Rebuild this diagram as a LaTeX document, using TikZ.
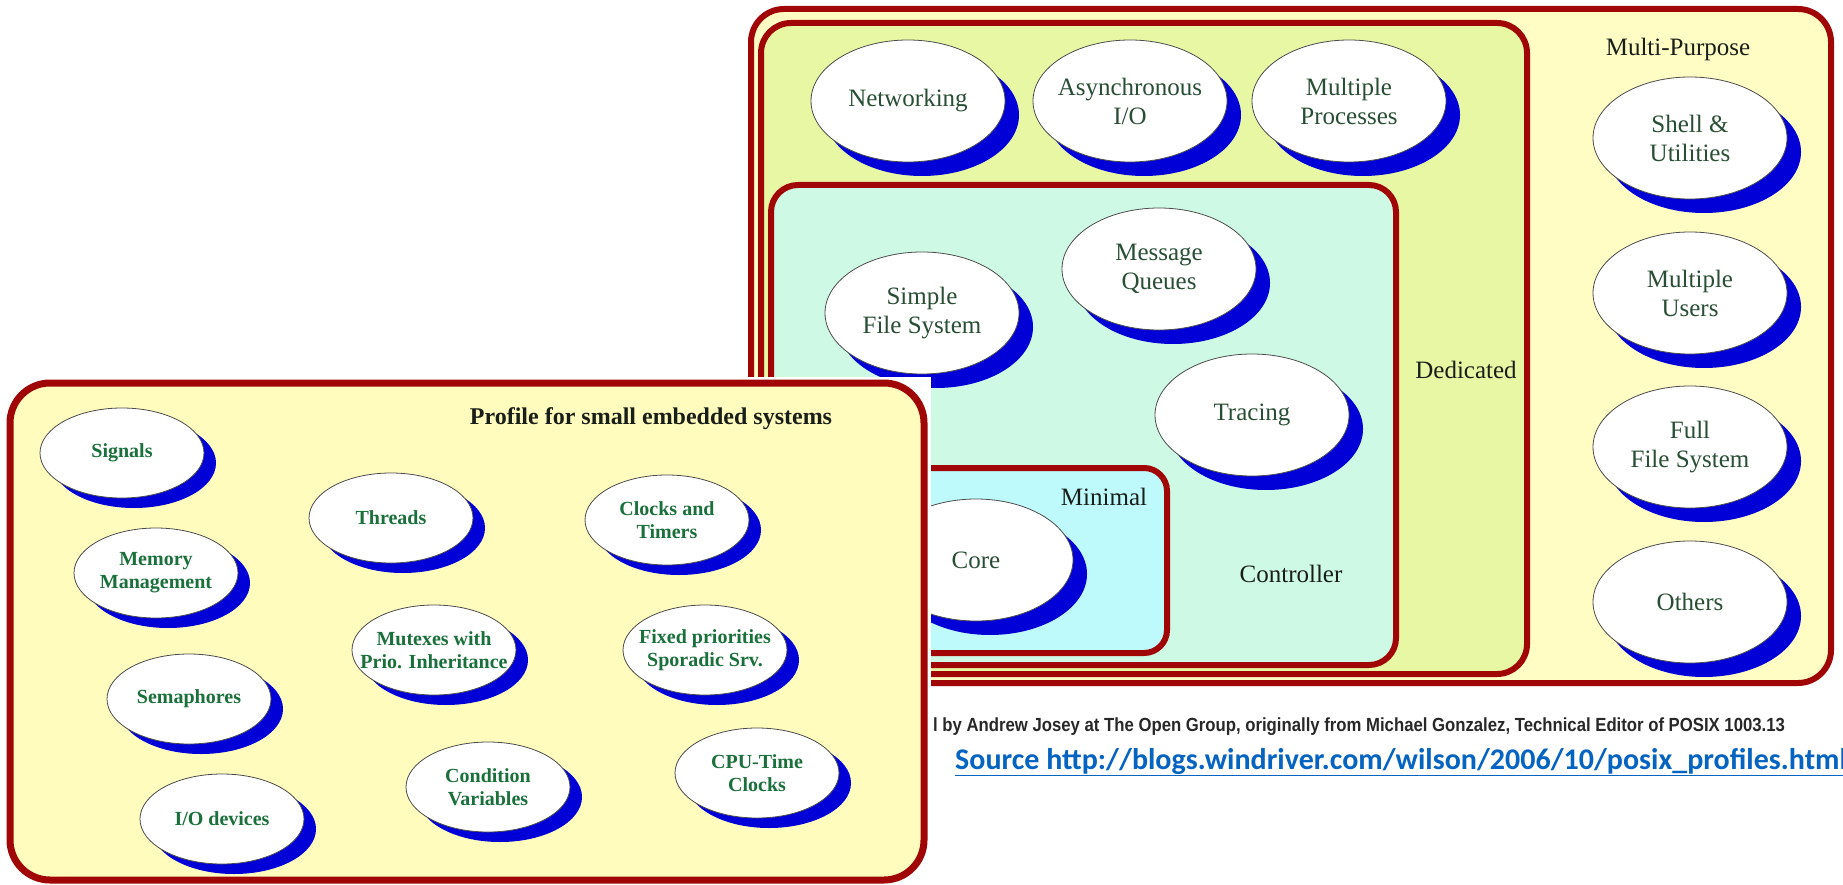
\documentclass[tikz,border=0pt]{standalone}
\usepackage{fontspec}
\setmainfont{Liberation Serif}
\newfontfamily\capfont{Liberation Sans}
\newfontfamily\linkfont{Carlito}
\usetikzlibrary{shapes.geometric,shadows}

\definecolor{frame}{RGB}{160,6,6}
\definecolor{mpfill}{RGB}{255,252,196}
\definecolor{dedfill}{RGB}{231,247,163}
\definecolor{ctlfill}{RGB}{206,250,229}
\definecolor{minfill}{RGB}{190,250,251}
\definecolor{embfill}{RGB}{255,252,190}
\definecolor{bubblue}{RGB}{0,0,215}
\definecolor{rgreen}{RGB}{40,78,52}
\definecolor{lgreen}{RGB}{26,112,58}
\definecolor{inkblack}{RGB}{25,30,25}
\definecolor{capgray}{RGB}{40,40,40}
\definecolor{linkblue}{RGB}{5,99,193}

\begin{document}
\begin{tikzpicture}[x=1pt,y=-1pt,
  box/.style={draw=frame, line width=6pt},
  bubble/.style={ellipse, draw=black!70, line width=0.8pt, fill=white, inner sep=0pt},
  rbub/.style={bubble, minimum width=194pt, minimum height=122pt,
    drop shadow={shadow xshift=14pt, shadow yshift=-14pt, fill=bubblue, opacity=1}},
  lbub/.style={bubble, minimum width=164pt, minimum height=90pt,
    drop shadow={shadow xshift=12pt, shadow yshift=-10pt, fill=bubblue, opacity=1}},
  rtxt/.style={align=center, inner sep=0pt, text=rgreen, font=\fontsize{25}{29}\selectfont},
  ltxt/.style={align=center, inner sep=0pt, text=lgreen, font=\bfseries\fontsize{20}{23}\selectfont},
  tag/.style={inner sep=0pt, text=inkblack, font=\fontsize{25}{29}\selectfont}]

\useasboundingbox (0,0) rectangle (1843,885);
\fill[white] (0,0) rectangle (1843,885);

% nested POSIX profiles
\draw[box, fill=mpfill, rounded corners=33pt] (751,9) rectangle (1831,683);
\draw[box, fill=dedfill, rounded corners=30pt] (761,23) rectangle (1527,674);

\node[rbub] (net) at (908,101) {};
\node[rtxt] (net-t) at (net) {Networking};
\node[rbub] (aio) at (1130,101) {};
\node[rtxt] (aio-t) at (aio) {Asynchronous\\I/O};
\node[rbub] (mproc) at (1349,101) {};
\node[rtxt] (mproc-t) at (mproc) {Multiple\\Processes};

\draw[box, fill=ctlfill, rounded corners=27pt] (771,185) rectangle (1396,665);

\node[rbub] (sfs) at (922,313) {};
\node[rtxt] (sfs-t) at (sfs) {Simple\\File System};
\node[rbub] (mq) at (1159,269) {};
\node[rtxt] (mq-t) at (mq) {Message\\Queues};
\node[rbub] (trc) at (1252,415) {};
\node[rtxt] (trc-t) at (trc) {Tracing};

\draw[box, fill=minfill, rounded corners=23pt] (880,468) rectangle (1167,653);
\node[rbub] (core) at (976,560) {};
\node[rtxt] (core-t) at (core) {Core};

\node[tag] (minimal) at (1104,497) {Minimal};
\node[tag] (controller) at (1291,574) {Controller};
\node[tag] (dedicated) at (1466,370) {Dedicated};
\node[tag] (multi) at (1678,49) {Multi-Purpose};

\node[rbub] (shell) at (1690,138) {};
\node[rtxt] (shell-t) at (shell) {Shell \&\\Utilities};
\node[rbub] (users) at (1690,293) {};
\node[rtxt] (users-t) at (users) {Multiple\\Users};
\node[rbub] (ffs) at (1690,447) {};
\node[rtxt] (ffs-t) at (ffs) {Full\\File System};
\node[rbub] (others) at (1690,602) {};
\node[rtxt] (others-t) at (others) {Others};

% small embedded systems profile, laid over the lower left
\fill[white] (0,377) rectangle (931,885);
\draw[draw=frame, line width=7pt, fill=embfill, rounded corners=40pt] (10,383) rectangle (924,880);
\node[inner sep=0pt, text=inkblack, font=\bfseries\fontsize{24}{28}\selectfont] (embtitle) at (651,419) {Profile for small embedded systems};

\node[lbub] (sig) at (122,453) {};
\node[ltxt] (sig-t) at (sig) {Signals};
\node[lbub] (mem) at (156,573) {};
\node[ltxt] (mem-t) at (mem) {Memory\\Management};
\node[lbub] (sem) at (189,699) {};
\node[ltxt] (sem-t) at (sem) {Semaphores};
\node[lbub] (iod) at (222,819) {};
\node[ltxt] (iod-t) at (iod) {I/O devices};
\node[lbub] (thr) at (391,518) {};
\node[ltxt] (thr-t) at (thr) {Threads};
\node[lbub] (mtx) at (434,650) {};
\node[ltxt] (mtx-t) at (mtx) {Mutexes with\\Prio. Inheritance};
\node[lbub] (cnd) at (488,787) {};
\node[ltxt] (cnd-t) at (cnd) {Condition\\Variables};
\node[lbub] (clk) at (667,520) {};
\node[ltxt] (clk-t) at (clk) {Clocks and\\Timers};
\node[lbub] (fxp) at (705,650) {};
\node[ltxt] (fxp-t) at (fxp) {Fixed priorities\\Sporadic Srv.};
\node[lbub] (cpu) at (757,773) {};
\node[ltxt] (cpu-t) at (cpu) {CPU-Time\\Clocks};

% credits
\node[anchor=west, inner sep=0pt, text=capgray, font=\capfont\bfseries\addfontfeature{FakeStretch=0.88}\fontsize{19}{22}\selectfont] (credit) at (933,727)
  {l by Andrew Josey at The Open Group, originally from Michael Gonzalez, Technical Editor of POSIX 1003.13};
\node[anchor=west, inner sep=0pt, text=linkblue, font=\linkfont\bfseries\fontsize{30}{34}\selectfont] (source) at (955,762)
  {\underline{Source http://blogs.windriver.com/wilson/2006/10/posix\_profiles.html}};
\end{tikzpicture}
\end{document}
